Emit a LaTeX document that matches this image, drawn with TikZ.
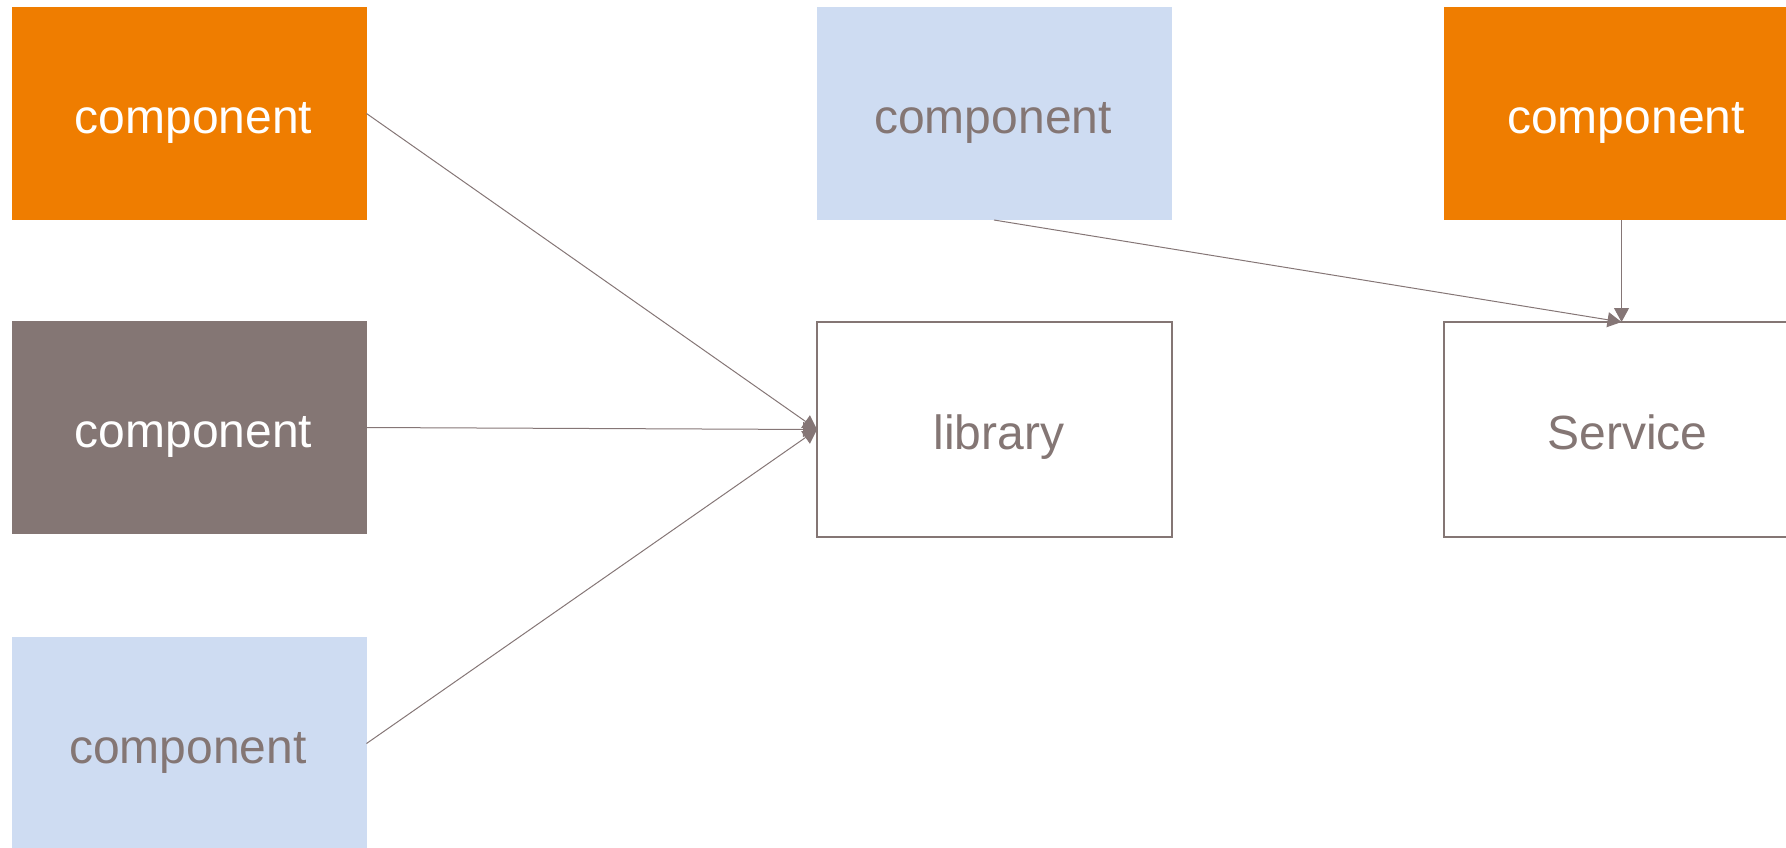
\documentclass[tikz,border=0pt]{standalone}
\usepackage{fontspec}
\setmainfont{Liberation Sans}
\usetikzlibrary{arrows.meta}
\definecolor{orng}{HTML}{EF7D00}
\definecolor{lblue}{HTML}{CEDCF2}
\definecolor{taupe}{HTML}{847674}
\definecolor{linec}{HTML}{857676}
\tikzset{
  box/.style={rectangle, inner sep=0pt, outer sep=0pt, minimum width=177.5pt, minimum height=106.5pt,
    text height=19.5pt, text depth=0pt, font=\fontsize{24}{28}\selectfont},
  orangebox/.style={box, fill=orng, text=white},
  graybox/.style={box, fill=taupe, text=white},
  bluebox/.style={box, fill=lblue, text=taupe},
  whitebox/.style={box, draw=taupe, line width=1pt, fill=white, text=taupe, minimum height=107.5pt},
  conn/.style={draw=linec, line width=0.5pt, -{Triangle[length=7pt,width=7.5pt]}},
}
\newcommand{\shifted}[1]{\hspace*{4.5pt}#1}
\begin{document}
\begin{tikzpicture}[x=0.5pt,y=-0.5pt]
\useasboundingbox (0,0) rectangle (1786,847);
\node[orangebox] (b1) at (189,113.5) {\shifted{component}};
\node[graybox] (b2) at (189,427.5) {\shifted{component}};
\node[bluebox] (b3) at (189,743.5) {\hspace*{-1pt}component};
\node[bluebox] (mb) at (994,113.5) {\hspace*{-1pt}component};
\node[whitebox] (lib) at (994.5,429.5) {\shifted{library}};
\node[orangebox] (ro) at (1621.5,113.5) {\shifted{component}};
\node[whitebox] (svc) at (1621.5,429.5) {\hspace*{6pt}Service};
\draw[conn] (b1.east) -- (lib.west);
\draw[conn] (b2.east) -- (lib.west);
\draw[conn] (b3.east) -- (lib.west);
\draw[conn] (mb.south) -- (svc.north);
\draw[conn] (ro.south) -- (svc.north);
\end{tikzpicture}
\end{document}
